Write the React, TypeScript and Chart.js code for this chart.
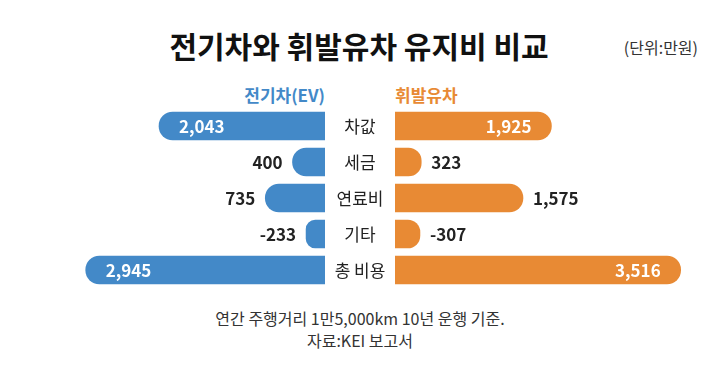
import React, { useEffect, useRef } from "react";
import { Chart, registerables } from "chart.js";
Chart.register(...registerables);

const title = "전기차와 휘발유차 유지비 비교";
const unitLabel = "(단위:만원)";
const categories = ["차값", "세금", "연료비", "기타", "총 비용"];
const seriesNames = ["전기차(EV)", "휘발유차"];
const evValues = [2043, 400, 735, -233, 2945];
const gasValues = [1925, 323, 1575, -307, 3516];
const notes = ["연간 주행거리 1만5,000km 10년 운행 기준.", "자료:KEI 보고서"];
const axisMax = 4000;

const BLUE = "#4389c8";
const ORANGE = "#e88a34";
const FONT = "'Noto Sans CJK KR', 'Noto Sans', sans-serif";

const fmt = (v: number) => v.toLocaleString("en-US");

function makeLabelPlugin(values: number[], side: "left" | "right", drawCategories: boolean) {
  return {
    id: "valueLabels" + side,
    afterDatasetsDraw(chart: any) {
      const ctx = chart.ctx;
      const meta = chart.getDatasetMeta(0);
      ctx.save();
      ctx.textBaseline = "middle";
      meta.data.forEach((bar: any, i: number) => {
        const base = bar.base;
        const end = bar.x;
        const len = Math.abs(end - base);
        const y = bar.y + 1;
        ctx.font = `bold 17px ${FONT}`;
        const text = fmt(values[i]);
        if (len > 150) {
          ctx.fillStyle = "#ffffff";
          if (side === "left") {
            ctx.textAlign = "left";
            ctx.fillText(text, end + 20, y);
          } else {
            ctx.textAlign = "right";
            ctx.fillText(text, end - 20, y);
          }
        } else {
          ctx.fillStyle = "#222222";
          if (side === "left") {
            ctx.textAlign = "right";
            ctx.fillText(text, end - 10, y);
          } else {
            ctx.textAlign = "left";
            ctx.fillText(text, end + 10, y);
          }
        }
        if (drawCategories) {
          ctx.font = `17px ${FONT}`;
          ctx.fillStyle = "#222222";
          ctx.textAlign = "center";
          ctx.fillText(categories[i], chart.chartArea.left - 35, y);
        }
      });
      ctx.restore();
    },
  };
}

function SideChart(props: { values: number[]; color: string; side: "left" | "right" }) {
  const ref = useRef<HTMLCanvasElement | null>(null);
  useEffect(() => {
    if (!ref.current) return;
    const { values, color, side } = props;
    const chart = new Chart(ref.current, {
      type: "bar",
      data: {
        labels: categories,
        datasets: [
          {
            label: side === "left" ? seriesNames[0] : seriesNames[1],
            data: values.map((v) => Math.abs(v)),
            backgroundColor: color,
            borderRadius: 14,
            borderSkipped: "start",
            barThickness: 28,
          },
        ],
      },
      options: {
        indexAxis: "y",
        animation: false,
        responsive: false,
        maintainAspectRatio: false,
        layout: { padding: { left: side === "right" ? 70 : 0, right: 0, top: 0, bottom: 0 } },
        plugins: { legend: { display: false }, tooltip: { enabled: false } },
        scales: {
          x: { display: false, min: 0, max: axisMax, reverse: side === "left" },
          y: { display: false },
        },
      },
      plugins: [makeLabelPlugin(values, side, side === "right")],
    } as any);
    return () => chart.destroy();
  }, []);
  const style: React.CSSProperties =
    props.side === "left"
      ? { position: "absolute", left: 0, top: 108, width: 325, height: 180 }
      : { position: "absolute", left: 325, top: 108, width: 395, height: 180 };
  return (
    <canvas
      ref={ref}
      width={props.side === "left" ? 325 : 395}
      height={180}
      style={style}
    />
  );
}

export default function App() {
  return (
    <div
      style={{
        position: "absolute",
        left: 0,
        top: 0,
        width: 720,
        height: 383,
        background: "#ffffff",
        fontFamily: FONT,
        overflow: "hidden",
      }}
    >
      <div
        style={{
          position: "absolute",
          left: 0,
          top: 26,
          width: 718,
          textAlign: "center",
          fontSize: 30,
          fontWeight: 700,
          lineHeight: "38px",
          color: "#111",
        }}
      >
        {title}
      </div>
      <div
        style={{
          position: "absolute",
          right: 22,
          top: 36,
          fontSize: 16,
          lineHeight: "22px",
          color: "#333",
        }}
      >
        {unitLabel}
      </div>
      <div
        style={{
          position: "absolute",
          right: 395,
          top: 83,
          fontSize: 17,
          fontWeight: 700,
          lineHeight: "24px",
          color: BLUE,
        }}
      >
        {seriesNames[0]}
      </div>
      <div
        style={{
          position: "absolute",
          left: 395,
          top: 83,
          fontSize: 17,
          fontWeight: 700,
          lineHeight: "24px",
          color: ORANGE,
        }}
      >
        {seriesNames[1]}
      </div>
      <SideChart values={evValues} color={BLUE} side="left" />
      <SideChart values={gasValues} color={ORANGE} side="right" />
      <div
        style={{
          position: "absolute",
          left: 0,
          top: 307,
          width: 720,
          textAlign: "center",
          fontSize: 16,
          lineHeight: "22px",
          color: "#333",
        }}
      >
        {notes.map((n, i) => (
          <div key={i}>{n}</div>
        ))}
      </div>
    </div>
  );
}
